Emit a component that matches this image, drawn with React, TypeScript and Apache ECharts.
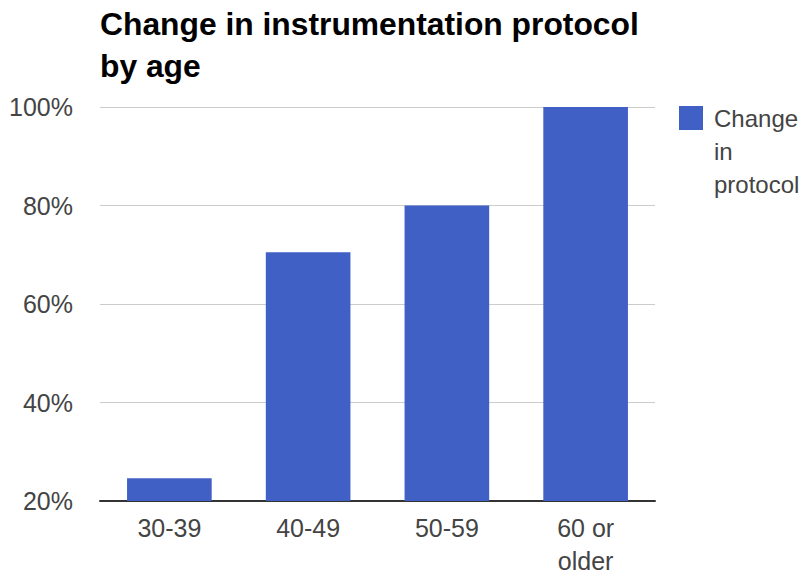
import React, { useEffect, useRef } from "react";
import * as echarts from "echarts";

// Age groups and share of respondents who changed protocol (%)
const ageGroups = ["30-39", "40-49", "50-59", "60 or\nolder"];
const changeShare = [24.6, 70.5, 80, 100];
const seriesName = "Change in protocol";
const yTicks = { min: 20, max: 100, step: 20 };

export default function App() {
  const ref = useRef<HTMLDivElement>(null);

  useEffect(() => {
    if (!ref.current) return;
    const chart = echarts.init(ref.current, undefined, { renderer: "svg" });
    const font = "'Liberation Sans', Arial, sans-serif";
    chart.setOption({
      animation: false,
      backgroundColor: "#ffffff",
      textStyle: { fontFamily: font },
      title: {
        text: "Change in instrumentation protocol\nby age",
        left: 100,
        top: 3,
        padding: 0,
        textStyle: {
          fontFamily: font,
          fontSize: 31.8,
          fontWeight: "bold",
          color: "#000000",
          lineHeight: 42,
        },
      },
      legend: {
        orient: "vertical",
        left: 679,
        top: 35.5,
        padding: 0,
        icon: "rect",
        itemWidth: 24,
        itemHeight: 24,
        selectedMode: false,
        data: [seriesName],
        // two blank lines first so the first word sits beside the swatch
        formatter: () => "\n\nChange\nin\nprotocol",
        textStyle: {
          fontFamily: font,
          fontSize: 24,
          lineHeight: 33,
          color: "#444444",
          padding: [0, 0, 0, 6],
        },
      },
      grid: {
        left: 100,
        right: 147,
        top: 107,
        bottom: 70,
        containLabel: false,
        outerBoundsMode: "none",
      },
      xAxis: {
        type: "category",
        data: ageGroups,
        axisLine: { lineStyle: { color: "#333333", width: 2 } },
        axisTick: { show: false },
        axisLabel: {
          fontFamily: font,
          fontSize: 25,
          lineHeight: 33,
          color: "#444444",
          margin: 10,
          verticalAlign: "top",
        },
      },
      yAxis: {
        type: "value",
        min: yTicks.min,
        max: yTicks.max,
        interval: yTicks.step,
        axisLine: { show: false },
        axisTick: { show: false },
        splitLine: { lineStyle: { color: "#cccccc", width: 1 } },
        axisLabel: {
          formatter: "{value}%",
          fontFamily: font,
          fontSize: 25,
          color: "#444444",
          margin: 27,
        },
      },
      series: [
        {
          name: seriesName,
          type: "bar",
          data: changeShare,
          barCategoryGap: "39%",
          clip: true,
          itemStyle: { color: "#4160c6" },
        },
      ],
    });
    return () => chart.dispose();
  }, []);

  return (
    <div
      ref={ref}
      style={{ position: "fixed", left: 0, top: 0, width: 802, height: 571 }}
    />
  );
}
